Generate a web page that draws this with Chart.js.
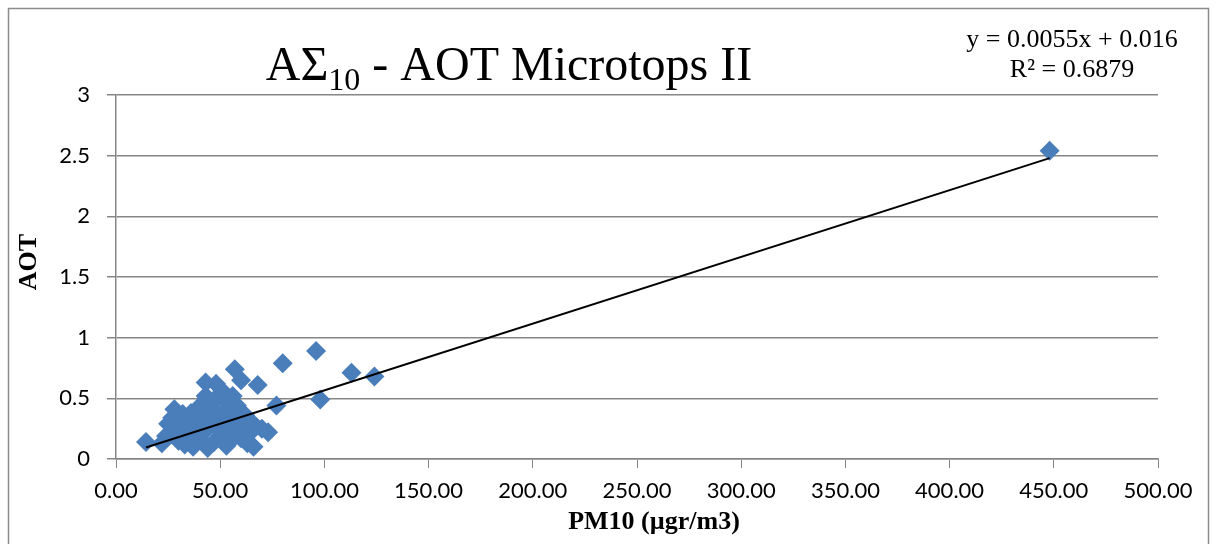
<!DOCTYPE html>
<html>
<head>
<meta charset="utf-8">
<script src="https://cdn.jsdelivr.net/npm/chart.js@4"></script>
<style>
  html, body { margin: 0; padding: 0; background: #fff; }
  #wrap { width: 1216px; height: 544px; }
</style>
</head>
<body>
<div id="wrap"><canvas id="myChart"></canvas></div>
<script>
// PM10 (x) vs AOT (y)
const pm10 = [14.4, 22, 24, 25, 27, 28, 29, 30, 31, 32, 33, 34, 35, 36, 37, 38, 39, 40,
  41, 42, 43, 43, 44, 44, 45, 46, 47, 48, 48, 49, 50, 50, 51, 52, 53, 53, 54, 55, 55,
  56, 57, 57, 58, 58, 59, 60, 60, 61, 62, 63, 64, 65, 66, 67, 68, 70, 73, 77, 80, 96,
  98, 113, 124, 448];
const aot = [0.14, 0.13, 0.19, 0.29, 0.34, 0.41, 0.22, 0.15, 0.26, 0.37, 0.12, 0.30,
  0.20, 0.38, 0.10, 0.27, 0.33, 0.17, 0.45, 0.22, 0.63, 0.52, 0.09, 0.36, 0.29, 0.42,
  0.14, 0.62, 0.50, 0.25, 0.33, 0.19, 0.56, 0.40, 0.11, 0.47, 0.28, 0.35, 0.15, 0.52,
  0.74, 0.22, 0.44, 0.30, 0.38, 0.65, 0.17, 0.26, 0.36, 0.13, 0.21, 0.30, 0.10, 0.27,
  0.61, 0.25, 0.22, 0.44, 0.79, 0.89, 0.49, 0.71, 0.68, 2.54];

// linear trendline as printed on the chart
const trendSlope = 0.0055;
const trendIntercept = 0.016;
const trendLabel = "y = 0.0055x + 0.016";
const r2Label = "R² = 0.6879";

const xTicks = [0, 50, 100, 150, 200, 250, 300, 350, 400, 450, 500];
const yTicks = [0, 0.5, 1, 1.5, 2, 2.5, 3];
const xTitle = "PM10 (µgr/m3)";
const yTitle = "AOT";

const points = pm10.map((x, i) => ({ x: x, y: aot[i] }));
const xMin = Math.min(...pm10);
const xMax = Math.max(...pm10);
const trend = [
  { x: xMin, y: trendSlope * xMin + trendIntercept },
  { x: xMax, y: trendSlope * xMax + trendIntercept },
];

const serif = "'Liberation Serif', 'Times New Roman', serif";
const sans = "Lato, 'Liberation Sans', sans-serif";

// frame, background, title with subscript, axis titles and equation text
const decor = {
  id: "decor",
  beforeDraw(chart) {
    const c = chart.ctx;
    c.save();
    c.fillStyle = "#fff";
    c.fillRect(0, 0, chart.width, chart.height);
    c.strokeStyle = "#8c8c8c";
    c.lineWidth = 1.5;
    c.strokeRect(8.5, 8.5, 1200, 560);
    c.restore();
  },
  afterDraw(chart) {
    const c = chart.ctx;
    c.save();
    c.fillStyle = "#000";
    c.textBaseline = "alphabetic";
    // title: AΣ10 - AOT Microtops II
    const big = "48px " + serif;
    const small = "32px " + serif;
    c.font = big;
    const w1 = c.measureText("AΣ").width;
    const w3 = c.measureText(" - AOT Microtops II").width;
    c.font = small;
    const w2 = c.measureText("10").width;
    let x = 509 - (w1 + w2 + w3) / 2;
    const base = 80;
    c.font = big;
    c.fillText("AΣ", x, base);
    x += w1;
    c.font = small;
    c.fillText("10", x, base + 10);
    x += w2;
    c.font = big;
    c.fillText(" - AOT Microtops II", x, base);
    // equation
    c.font = "26px " + serif;
    c.textAlign = "center";
    c.fillText(trendLabel, 1072, 47);
    c.fillText(r2Label, 1072, 77);
    // axis titles
    c.font = "bold 26px " + serif;
    c.textBaseline = "middle";
    c.fillText(xTitle, 654, 522);
    c.translate(29, 262);
    c.rotate(-Math.PI / 2);
    c.fillText(yTitle, 0, 0);
    c.restore();
  },
};

new Chart(document.getElementById("myChart"), {
  type: "scatter",
  data: {
    datasets: [
      {
        type: "line",
        data: trend,
        borderColor: "#000",
        borderWidth: 2,
        pointRadius: 0,
        fill: false,
        order: 0,
      },
      {
        data: points,
        pointStyle: "rectRot",
        pointRadius: 10,
        backgroundColor: "#4a7ebb",
        borderColor: "#4a7ebb",
        borderWidth: 0,
        order: 1,
      },
    ],
  },
  options: {
    responsive: true,
    maintainAspectRatio: false,
    animation: false,
    layout: { padding: { left: 0, top: 95, right: 58, bottom: 0 } },
    plugins: {
      legend: { display: false },
      tooltip: { enabled: false },
    },
    scales: {
      x: {
        type: "linear",
        min: 0,
        max: 500,
        afterBuildTicks: (axis) => {
          axis.ticks = xTicks.map((v) => ({ value: v }));
        },
        afterFit: (axis) => {
          axis.height = 85;
        },
        ticks: {
          callback: (v) => v.toFixed(2),
          font: { family: sans, size: 22 },
          color: "#000",
          padding: 10,
          maxRotation: 0,
        },
        grid: {
          drawOnChartArea: false,
          drawTicks: true,
          tickLength: 9,
          color: "#868686",
        },
        border: { color: "#868686", width: 1.5 },
      },
      y: {
        min: 0,
        max: 3,
        afterBuildTicks: (axis) => {
          axis.ticks = yTicks.map((v) => ({ value: v }));
        },
        afterFit: (axis) => {
          axis.width = 116;
        },
        ticks: {
          callback: (v) => String(v),
          font: { family: sans, size: 22 },
          color: "#000",
          padding: 17,
        },
        grid: {
          color: "#868686",
          lineWidth: 1.5,
          tickLength: 9,
        },
        border: { color: "#868686", width: 1.5 },
      },
    },
  },
  plugins: [decor],
});
</script>
</body>
</html>
